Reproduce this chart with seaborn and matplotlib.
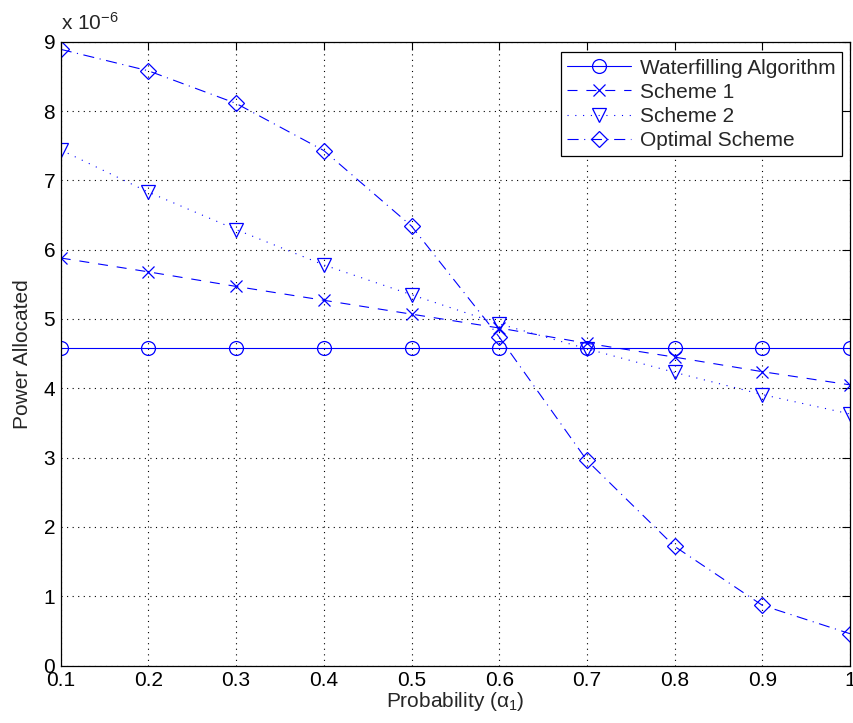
import matplotlib
matplotlib.use("Agg")
import matplotlib.pyplot as plt
import seaborn as sns
import numpy as np
import pandas as pd
from matplotlib.ticker import FuncFormatter

# ---- data (values in units of 1e-6) ----
alpha = [0.1, 0.2, 0.3, 0.4, 0.5, 0.6, 0.7, 0.8, 0.9, 1.0]
waterfilling = [4.58, 4.58, 4.58, 4.58, 4.58, 4.58, 4.58, 4.58, 4.58, 4.58]
scheme1 = [5.88, 5.68, 5.47, 5.27, 5.07, 4.87, 4.65, 4.45, 4.24, 4.05]
scheme2 = [7.44, 6.83, 6.29, 5.78, 5.35, 4.93, 4.57, 4.23, 3.91, 3.63]
optimal = [8.89, 8.58, 8.11, 7.43, 6.34, 4.74, 2.96, 1.72, 0.87, 0.46]
labels = ["Waterfilling Algorithm", "Scheme 1", "Scheme 2", "Optimal Scheme"]
xticks = [0.1, 0.2, 0.3, 0.4, 0.5, 0.6, 0.7, 0.8, 0.9, 1.0]
yticks = [0, 1, 2, 3, 4, 5, 6, 7, 8, 9]

sns.set_style("white")
plt.rcParams['font.family'] = ['Liberation Sans', 'DejaVu Sans']
plt.rcParams['mathtext.fontset'] = 'custom'
plt.rcParams['mathtext.rm'] = 'Liberation Sans'
plt.rcParams['mathtext.it'] = 'Liberation Sans'

fig = plt.figure(figsize=(8.54, 7.23), dpi=100)
ax = fig.add_axes([0.0711, 0.0794, 0.9953 - 0.0711, 0.9423 - 0.0794])

series = [waterfilling, scheme1, scheme2, optimal]
styles = ['-', (0, (9, 8)), (0, (1, 6)), (0, (10, 5, 1, 5))]
markers = ['o', 'x', 'v', 'D']
msizes = [10, 8, 10, 8.5]
for vals, lab, ls, mk, ms in zip(series, labels, styles, markers, msizes):
    y = np.array(vals) * 1e-6
    sns.lineplot(x=alpha, y=y, ax=ax, color='blue', linestyle=ls, marker=mk,
                 markersize=ms, markerfacecolor='none', markeredgecolor='blue',
                 markeredgewidth=0.9, linewidth=0.8, label=lab)

ax.set_xlim(0.1, 1.0)
ax.set_ylim(0, 9e-6)
ax.set_xticks(xticks)
ax.set_yticks(np.array(yticks) * 1e-6)
ax.xaxis.set_major_formatter(FuncFormatter(lambda v, p: f'{v:g}'))
ax.yaxis.set_major_formatter(FuncFormatter(lambda v, p: f'{round(v * 1e6):d}'))
ax.grid(True, linestyle=(0, (1, 4)), color='black', linewidth=0.8)
ax.tick_params(direction='in', length=6, width=0.8, top=True, right=True,
               labelsize=15, colors='black', pad=4)
for s in ax.spines.values():
    s.set_visible(True)
    s.set_color('black')
    s.set_linewidth(0.9)

ax.set_xlabel(r'Probability ($\alpha_1$)', fontsize=15, labelpad=0)
ax.set_ylabel('Power Allocated', fontsize=15, labelpad=8)
ax.text(0.0, 1.012, r'x 10$^{-6}$', transform=ax.transAxes, fontsize=15,
        ha='left', va='bottom')

leg = ax.legend(loc='upper right', bbox_to_anchor=(0.9895, 0.983), fontsize=15,
                frameon=True, fancybox=False, edgecolor='black', framealpha=1,
                handlelength=3.1, borderpad=0.3, labelspacing=0.25,
                handletextpad=0.4, borderaxespad=0)
leg.get_frame().set_linewidth(0.9)

fig.savefig('out.png', dpi=100)
